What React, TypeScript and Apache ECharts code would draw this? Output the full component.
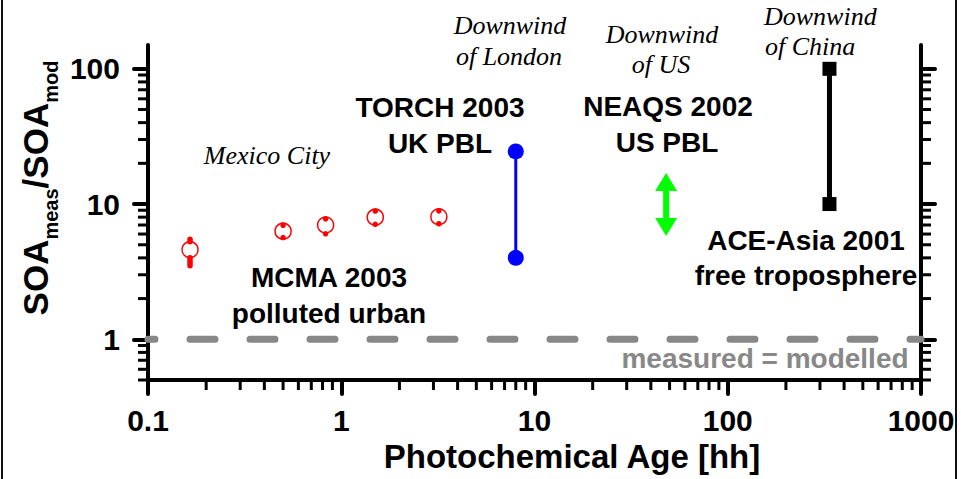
import { useEffect, useRef } from 'react';
import * as echarts from 'echarts';

// Axis ticks
const X_MIN = 0.1;
const X_MAX = 1000;
const Y_MIN = 0.5;
const Y_MAX = 150;
const X_MAJOR = [0.1, 1, 10, 100, 1000];
const Y_MAJOR = [1, 10, 100];
const X_MINOR = [
  0.2, 0.3, 0.4, 0.5, 0.6, 0.7, 0.8, 0.9,
  2, 3, 4, 5, 6, 7, 8, 9,
  20, 30, 40, 50, 60, 70, 80, 90,
  200, 300, 400, 500, 600, 700, 800, 900,
];
const Y_MINOR = [
  0.5, 0.6, 0.7, 0.8, 0.9,
  2, 3, 4, 5, 6, 7, 8, 9,
  20, 30, 40, 50, 60, 70, 80, 90,
];

// MCMA 2003, Mexico City: photochemical age [h], ratio, lower / upper bounds
const MEX_AGE = [0.165, 0.5, 0.83, 1.5, 3.2];
const MEX_RATIO = [4.6, 6.3, 7.0, 8.0, 8.05];
const MEX_LOW = [3.5, 5.65, 6.03, 7.08, 7.15];
const MEX_HIGH = [5.5, 6.96, 7.77, 8.88, 8.9];

// TORCH 2003, downwind of London
const TORCH_AGE = 8;
const TORCH_RANGE = [4, 24.5];

// NEAQS 2002, downwind of US
const NEAQS_AGE = 48;
const NEAQS_RANGE = [5.8, 17];

// ACE-Asia 2001, downwind of China
const ACE_AGE = 336;
const ACE_RANGE = [10, 100];

// measured = modelled
const PARITY = 1;

const SANS = '"Liberation Sans", Arial, sans-serif';
const SERIF = '"Liberation Serif", "Times New Roman", serif';

const fmt = (v: number) => String(v);

const labelStyle = {
  fontSize: 30,
  fontWeight: 'bold',
  fontFamily: SANS,
  color: '#000',
  formatter: fmt,
};

const axisLine = () => ({ show: true, onZero: false, lineStyle: { color: '#000', width: 4 } });
const majorTick = (vals: number[]) => ({
  show: true,
  customValues: vals,
  length: 14,
  lineStyle: { color: '#000', width: 4, cap: 'round' },
});

// minor tick marks as small bars sitting on the axis lines
const TICK_LEN = 10;
const TICK_W = 3;
function minorTickSeries(data: number[][], size: number[], offset: number[]) {
  return {
    type: 'scatter',
    data,
    symbol: 'rect',
    symbolSize: size,
    symbolOffset: offset,
    clip: false,
    silent: true,
    z: 10,
    itemStyle: { color: '#000', opacity: 1 },
  };
}

function text(
  str: string,
  x: number,
  y: number,
  opts: { size?: number; italic?: boolean; align?: string; color?: string } = {}
) {
  const italic = !!opts.italic;
  const align = opts.align || 'center';
  return {
    type: 'text',
    x,
    y,
    z: 50,
    style: {
      text: str,
      fill: opts.color || '#000',
      fontSize: opts.size || (italic ? 26 : 28),
      fontFamily: italic ? SERIF : SANS,
      fontWeight: italic ? 'normal' : 'bold',
      fontStyle: italic ? 'italic' : 'normal',
      align,
      textAlign: align,
      verticalAlign: 'middle',
      textVerticalAlign: 'middle',
    },
  };
}

const baseGraphics: any[] = [
  { type: 'rect', shape: { x: 1, y: 0, width: 2, height: 479 }, style: { fill: '#111' } },
  { type: 'rect', shape: { x: 955, y: 0, width: 2, height: 479 }, style: { fill: '#111' } },
  {
    type: 'text',
    x: 38,
    y: 188,
    rotation: Math.PI / 2,
    z: 50,
    style: {
      text: '{a|SOA}{b|meas}{a|/SOA}{b|mod}',
      align: 'center',
      textAlign: 'center',
      verticalAlign: 'middle',
      textVerticalAlign: 'middle',
      fill: '#000',
      rich: {
        a: { fontSize: 35, fontWeight: 'bold', fontFamily: SANS, lineHeight: 40, verticalAlign: 'top', fill: '#000' },
        b: {
          fontSize: 20,
          fontWeight: 'bold',
          fontFamily: SANS,
          lineHeight: 20,
          verticalAlign: 'top',
          padding: [23, 0, 0, 0],
          fill: '#000',
        },
      },
    },
  },
  text('Photochemical Age [hh]', 572, 456, { size: 33 }),
  text('Mexico City', 267, 155, { italic: true }),
  text('Downwind', 510, 25, { italic: true }),
  text('of London', 509, 56, { italic: true }),
  text('Downwind', 662, 34, { italic: true }),
  text('of US', 661, 64, { italic: true }),
  text('Downwind', 764, 16, { italic: true, align: 'left' }),
  text('of China', 765, 46, { italic: true, align: 'left' }),
  text('TORCH 2003', 440, 107),
  text('UK PBL', 440, 143),
  text('NEAQS 2002', 668, 106),
  text('US PBL', 667, 142),
  text('MCMA 2003', 329, 277),
  text('polluted urban', 329, 313),
  text('ACE-Asia 2001', 806, 240),
  text('free troposphere', 806, 275),
  text('measured = modelled', 765, 358, { color: '#888' }),
];

const option: any = {
  animation: false,
  backgroundColor: '#fff',
  grid: { left: 148, right: 40, top: 45, bottom: 99, containLabel: false },
  xAxis: [
    {
      type: 'log',
      logBase: 10,
      min: X_MIN,
      max: X_MAX,
      position: 'bottom',
      splitLine: { show: false },
      axisLine: axisLine(),
      axisTick: majorTick(X_MAJOR),
      axisLabel: { show: true, customValues: X_MAJOR, margin: 25, ...labelStyle },
    },
  ],
  yAxis: [
    {
      type: 'log',
      logBase: 10,
      min: Y_MIN,
      max: Y_MAX,
      position: 'left',
      splitLine: { show: false },
      axisLine: axisLine(),
      axisTick: majorTick(Y_MAJOR),
      axisLabel: { show: true, customValues: Y_MAJOR, margin: 28, ...labelStyle },
    },
    {
      type: 'log',
      logBase: 10,
      min: Y_MIN,
      max: Y_MAX,
      position: 'right',
      splitLine: { show: false },
      axisLine: axisLine(),
      axisTick: majorTick(Y_MAJOR),
      axisLabel: { show: false },
    },
  ],
  series: [
    minorTickSeries(
      X_MINOR.map((v) => [v, Y_MIN]),
      [TICK_W, TICK_LEN],
      [0, TICK_LEN / 2]
    ),
    minorTickSeries(
      Y_MINOR.map((v) => [X_MIN, v]),
      [TICK_LEN, TICK_W],
      [-TICK_LEN / 2, 0]
    ),
    minorTickSeries(
      Y_MINOR.map((v) => [X_MAX, v]),
      [TICK_LEN, TICK_W],
      [TICK_LEN / 2, 0]
    ),
    {
      type: 'line',
      name: 'measured = modelled',
      data: [
        [X_MIN, PARITY],
        [X_MAX, PARITY],
      ],
      symbol: 'none',
      silent: true,
      z: 1,
      lineStyle: { color: '#888', width: 7, type: [25, 35], dashOffset: 17.5, cap: 'round' },
    },
    {
      type: 'custom',
      name: 'MCMA 2003',
      data: MEX_AGE.map((a, i) => [a, MEX_RATIO[i], MEX_LOW[i], MEX_HIGH[i]]),
      encode: { x: 0, y: 1 },
      z: 3,
      renderItem: (params: any, api: any) => {
        const x = api.value(0);
        const c = api.coord([x, api.value(1)]);
        const lo = api.coord([x, api.value(2)]);
        const hi = api.coord([x, api.value(3)]);
        const gap = 8;
        const red = '#ff0000';
        const w = 5.5;
        const children: any[] = [
          {
            type: 'circle',
            shape: { cx: c[0], cy: c[1], r: 8 },
            style: { fill: '#fff', stroke: red, lineWidth: 1.5 },
          },
        ];
        // error bar ends: a bar outside the symbol, or a dot when it falls inside
        const addEnd = (yEnd: number, yInner: number) => {
          if (Math.abs(yEnd - yInner) > 1 && Math.sign(yEnd - c[1]) === Math.sign(yEnd - yInner)) {
            children.push({
              type: 'line',
              shape: { x1: c[0], y1: yInner, x2: c[0], y2: yEnd },
              style: { stroke: red, lineWidth: w, lineCap: 'round' },
            });
          } else {
            children.push({
              type: 'circle',
              shape: { cx: c[0], cy: yEnd, r: w / 2 },
              style: { fill: red },
            });
          }
        };
        addEnd(hi[1], c[1] - gap);
        addEnd(lo[1], c[1] + gap);
        return { type: 'group', children };
      },
    },
    {
      type: 'line',
      name: 'TORCH 2003',
      data: TORCH_RANGE.map((v) => [TORCH_AGE, v]),
      symbol: 'circle',
      symbolSize: 16,
      z: 3,
      itemStyle: { color: '#0000ff' },
      lineStyle: { color: '#0000ff', width: 3 },
    },
    {
      type: 'custom',
      name: 'NEAQS 2002',
      data: [[NEAQS_AGE, NEAQS_RANGE[0], NEAQS_RANGE[1]]],
      encode: { x: 0, y: [1, 2] },
      z: 3,
      renderItem: (params: any, api: any) => {
        const x = api.value(0);
        const bot = api.coord([x, api.value(1)]);
        const top = api.coord([x, api.value(2)]);
        const head = 18;
        const half = 11;
        const green = '#00ff00';
        const cx = top[0];
        return {
          type: 'group',
          children: [
            {
              type: 'rect',
              shape: { x: cx - 3, y: top[1] + head - 1, width: 6, height: bot[1] - top[1] - 2 * head + 2 },
              style: { fill: green },
            },
            {
              type: 'polygon',
              shape: { points: [[cx, top[1]], [cx + half, top[1] + head], [cx - half, top[1] + head]] },
              style: { fill: green },
            },
            {
              type: 'polygon',
              shape: { points: [[cx, bot[1]], [cx + half, bot[1] - head], [cx - half, bot[1] - head]] },
              style: { fill: green },
            },
          ],
        };
      },
    },
    {
      type: 'line',
      name: 'ACE-Asia 2001',
      data: ACE_RANGE.map((v) => [ACE_AGE, v]),
      symbol: 'rect',
      symbolSize: 14,
      z: 3,
      itemStyle: { color: '#000' },
      lineStyle: { color: '#000', width: 5 },
    },
  ],
  graphic: { elements: baseGraphics },
};

export default function App() {
  const ref = useRef<HTMLDivElement>(null);
  useEffect(() => {
    const chart = echarts.init(ref.current!, null, { renderer: 'svg' });
    chart.setOption(option);
    return () => chart.dispose();
  }, []);
  return (
    <div
      ref={ref}
      style={{ position: 'fixed', left: 0, top: 0, width: 961, height: 479, background: '#fff' }}
    />
  );
}
